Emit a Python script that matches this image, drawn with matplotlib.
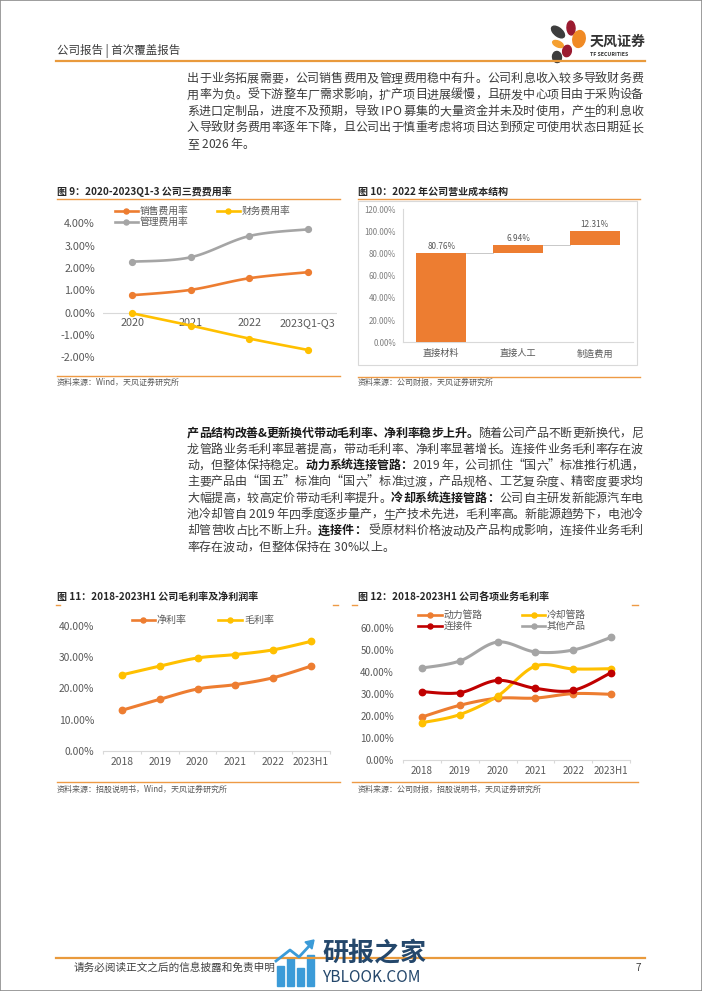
import numpy as np
import matplotlib
matplotlib.use('Agg')
import matplotlib.pyplot as plt
from matplotlib.lines import Line2D
from matplotlib.patches import Rectangle, Ellipse, Polygon
from matplotlib.font_manager import FontProperties

plt.rcParams['font.family'] = ['Noto Sans CJK SC', 'DejaVu Sans']

# ---- data ----
fee_years = ['2020', '2021', '2022', '2023Q1-Q3']
sales_fee = [0.78, 1.02, 1.54, 1.81]
fin_fee = [-0.03, -0.58, -1.16, -1.67]
admin_fee = [2.28, 2.48, 3.43, 3.73]

cost_items = ['直接材料', '直接人工', '制造费用']
cost_share = [80.76, 6.94, 12.31]

years = ['2018', '2019', '2020', '2021', '2022', '2023H1']
net_margin = [13.0, 16.5, 19.8, 21.2, 23.4, 27.1]
gross_margin = [24.3, 27.1, 29.7, 30.8, 32.3, 35.0]

power_pipe = [19.5, 24.8, 28.0, 28.1, 30.1, 29.8]
cool_pipe = [16.9, 20.6, 29.0, 42.6, 41.3, 41.4]
connector = [31.0, 30.5, 36.1, 32.5, 31.6, 39.6]
other_prod = [41.7, 44.9, 53.5, 49.0, 49.9, 55.6]

para1 = [
    '出于业务拓展需要，公司销售费用及管理费用稳中有升。公司利息收入较多导致财务费',
    '用率为负。受下游整车厂需求影响，扩产项目进展缓慢，且研发中心项目由于采购设备',
    '系进口定制品，进度不及预期，导致 IPO 募集的大量资金并未及时使用，产生的利息收',
    '入导致财务费用率逐年下降，且公司出于慎重考虑将项目达到预定可使用状态日期延长',
    '至 2026 年。',
]
# '§' toggles bold
para2 = [
    '§产品结构改善&更新换代带动毛利率、净利率稳步上升。§随着公司产品不断更新换代，尼',
    '龙管路业务毛利率显著提高，带动毛利率、净利率显著增长。连接件业务毛利率存在波',
    '动，但整体保持稳定。§动力系统连接管路：§2019 年，公司抓住“国六”标准推行机遇，',
    '主要产品由“国五”标准向“国六”标准过渡，产品规格、工艺复杂度、精密度要求均',
    '大幅提高，较高定价带动毛利率提升。§冷却系统连接管路：§公司自主研发新能源汽车电',
    '池冷却管自 2019 年四季度逐步量产，生产技术先进，毛利率高。新能源趋势下，电池冷',
    '却管营收占比不断上升。§连接件：§ 受原材料价格波动及产品构成影响，连接件业务毛利',
    '率存在波动，但整体保持在 30%以上。',
]

ORANGE = '#ED7D31'
YELLOW = '#FFC000'
GRAY = '#A5A5A5'
DARKRED = '#C00000'
RULE = '#EE9A45'
TXT = '#595959'

W, H = 702, 991
fig = plt.figure(figsize=(W / 100, H / 100), dpi=100)
renderer = fig.canvas.get_renderer()


def fx(x):
    return x / W


def fy(y):
    return 1 - y / H


def pt(px):
    return px * 0.72


def add_ax(x0, y0, x1, y1):
    return fig.add_axes([fx(x0), fy(y1), (x1 - x0) / W, (y1 - y0) / H])


def hline(x0, x1, y, color=RULE, lw=1.0):
    fig.add_artist(Line2D([fx(x0), fx(x1)], [fy(y), fy(y)], color=color, lw=lw))


def txt(x, y, s, size, color='#404040', weight='normal', ha='left', va='center', **kw):
    return fig.text(fx(x), fy(y), s, fontsize=pt(size), color=color,
                    fontweight=weight, ha=ha, va=va, **kw)


# ---- justified body text ----
_metrics = {}


def metrics(ch, bold, size):
    # advance width and left bearing (relative to 国) in pixels
    key = (ch, bold, size)
    if key not in _metrics:
        fp = FontProperties(family='Noto Sans CJK SC', size=pt(size),
                            weight='bold' if bold else 'normal')

        def w(s):
            return renderer.get_text_width_height_descent(s, fp, ismath=False)[0]
        if '\u4e00' <= ch <= '\u9fff' or ch in '，。、：；':
            adv = float(size)
        else:
            adv = w('国' + ch + '国') - w('国国')
        adv_ref = w('国国国') - w('国国')
        lsb = w('国' + ch) - w(ch) - adv_ref if ch != ' ' else 0
        _metrics[key] = (adv, lsb)
    return _metrics[key]


def body_line(line, x0, x1, y, size=12, justify=True):
    chars = []
    bold = False
    for ch in line:
        if ch == '§':
            bold = not bold
            continue
        chars.append((ch, bold))
    mets = [metrics(c, b, size) for c, b in chars]
    total = sum(m[0] for m in mets)
    gap = (x1 - x0 - total) / (len(chars) - 1) if justify and len(chars) > 1 else 0
    x = x0
    base = y + 0.38 * size
    for (c, b), (adv, lsb) in zip(chars, mets):
        if c != ' ':
            col = '#1a1a1a' if b else '#3c3c3c'
            txt(x + lsb, base, c, size, color=col, weight='bold' if b else 'normal',
                ha='left', va='baseline')
        x += adv + gap


for i, line in enumerate(para1):
    body_line(line, 187, 643, 77.5 + 16.4 * i, justify=i < len(para1) - 1)
for i, line in enumerate(para2):
    body_line(line, 187, 643, 432 + 16.3 * i, justify=i < len(para2) - 1)


# ---- helpers for charts ----
def smooth(xv, yv, n=20):
    P = np.column_stack([xv, yv]).astype(float)
    k = len(P)
    out = [P[0]]
    t = np.linspace(0, 1, n)[1:, None]
    for i in range(k - 1):
        p0 = P[max(i - 1, 0)]
        p1 = P[i]
        p2 = P[i + 1]
        p3 = P[min(i + 2, k - 1)]
        c1 = p1 + (p2 - p0) / 6
        c2 = p2 - (p3 - p1) / 6
        seg = (1 - t) ** 3 * p1 + 3 * (1 - t) ** 2 * t * c1 + 3 * (1 - t) * t ** 2 * c2 + t ** 3 * p2
        out.extend(seg)
    out = np.array(out)
    return out[:, 0], out[:, 1]


def legend_item(x0, x1, y, color, label, size=9.8, lw=1.9):
    fig.add_artist(Line2D([fx(x0), fx(x1)], [fy(y), fy(y)], color=color, lw=lw))
    fig.add_artist(Line2D([fx((x0 + x1) / 2)], [fy(y)], marker='o', ms=3.6,
                          color=color, linestyle='none'))
    txt(x1 + 2, y, label, size, color=TXT)


def clean(ax):
    for s in ax.spines.values():
        s.set_visible(False)
    ax.set_facecolor('none')


def draw_lines(ax, series, lw=1.9, ms=4.4):
    for vals, col in series:
        xv = np.arange(len(vals))
        sx, sy = smooth(xv, vals)
        ax.plot(sx, sy, color=col, lw=lw, clip_on=False, zorder=3)
        ax.plot(xv, vals, 'o', color=col, ms=ms, clip_on=False, zorder=4)


def pct_yticks(ax, ticks, size, pad_px, color=TXT):
    ax.set_yticks(ticks)
    ax.set_yticklabels([f'{v:.2f}%' for v in ticks], fontsize=pt(size), color=color)
    ax.tick_params(axis='y', length=0, pad=pt(pad_px))


def bottom_axis(ax, cats, size, pad_px):
    ax.spines['bottom'].set_visible(True)
    ax.spines['bottom'].set_color('#D9D9D9')
    ax.spines['bottom'].set_linewidth(0.8)
    ax.set_xticks(range(len(cats)))
    ax.set_xticklabels(cats, fontsize=pt(size), color=TXT)
    ax.set_xticks(np.arange(len(cats) + 1) - 0.5, minor=True)
    ax.tick_params(axis='x', which='major', length=0, pad=pt(pad_px))
    ax.tick_params(axis='x', which='minor', length=pt(3), color='#D9D9D9', width=0.8)


# ---- header ----
txt(57, 51, '公司报告 | 首次覆盖报告', 11.5, color='#3a3a3a')
hline(56, 645, 61, color='#E99A3C', lw=1.6)
for (cx, cy, w, h, ang, col) in [(558, 32, 14, 9, -25, '#3d3d3d'),
                                 (571, 28, 8, 14, 10, '#9b1b30'),
                                 (579, 39, 13, 16, 35, '#F08A24'),
                                 (558, 44, 11, 6, -15, '#F5A030'),
                                 (567, 51, 9, 11, 25, '#9b1b30'),
                                 (557, 57, 9, 11, -10, '#3d3d3d')]:
    fig.add_artist(Ellipse((fx(cx), fy(cy)), w / W, h / H, angle=ang, color=col))
txt(590, 42, '天风证券', 14, color='#333333', weight='bold')
txt(590, 54.5, 'TF SECURITIES', 5.2, color='#333333', weight='bold')

# ---- chart 9 ----
txt(57, 191.7, '图 9：2020-2023Q1-3 公司三费费用率', 10, color='#262626', weight='bold')
hline(57, 340, 199)
hline(57, 340, 376)
txt(57, 382.5, '资料来源：Wind，天风证券研究所', 8, color=TXT)

ax9 = add_ax(103, 223.3, 337, 357.3)
clean(ax9)
ax9.set_xlim(-0.5, len(fee_years) - 0.5)
ax9.set_ylim(-2, 4)
ax9.axhline(0, color='#D9D9D9', lw=0.8, zorder=0)
draw_lines(ax9, [(sales_fee, ORANGE), (fin_fee, YELLOW), (admin_fee, GRAY)], lw=1.9, ms=4.2)
pct_yticks(ax9, np.arange(-2, 5, 1), 10.8, 8)
ax9.set_xticks([])
for i, lab in enumerate(fee_years):
    ax9.annotate(lab, (i, 0), xytext=(0, -pt(5)), textcoords='offset points',
                 ha='center', va='top', fontsize=pt(10.8), color=TXT, zorder=1)
legend_item(115, 138, 211, ORANGE, '销售费用率')
legend_item(217, 240, 211, YELLOW, '财务费用率')
legend_item(115, 138, 221.7, GRAY, '管理费用率')

# ---- chart 10 ----
txt(358, 191.7, '图 10：2022 年公司营业成本结构', 10, color='#262626', weight='bold')
hline(358, 640, 199)
hline(358, 640, 376.7)
txt(358, 382.5, '资料来源：公司财报，天风证券研究所', 8, color=TXT)
fig.add_artist(Rectangle((fx(358), fy(365)), (637 - 358) / W, (365 - 200.7) / H,
                         fill=False, ec='#D9D9D9', lw=0.8))

ax10 = add_ax(403, 209, 633, 342.3)
clean(ax10)
ax10.set_xlim(-0.5, len(cost_items) - 0.5)
ax10.set_ylim(0, 120)
bottoms = np.concatenate([[0], np.cumsum(cost_share)[:-1]])
ax10.bar(range(len(cost_items)), cost_share, bottom=bottoms, width=0.65, color=ORANGE, zorder=3)
for i in range(len(cost_items) - 1):
    ax10.plot([i + 0.325, i + 1 - 0.325], [bottoms[i + 1]] * 2, color='#BFBFBF', lw=0.6)
for i, v in enumerate(cost_share):
    ax10.annotate(f'{v:.2f}%', (i, bottoms[i] + v), xytext=(0, pt(2)), textcoords='offset points',
                  ha='center', va='bottom', fontsize=pt(8.2), color=TXT)
for s in ['left', 'bottom']:
    ax10.spines[s].set_visible(True)
    ax10.spines[s].set_color('#D9D9D9')
    ax10.spines[s].set_linewidth(0.8)
pct_yticks(ax10, np.arange(0, 121, 20), 8, 7, color='#7f7f7f')
ax10.set_xticks(range(len(cost_items)))
ax10.set_xticklabels(cost_items, fontsize=pt(9.2), color=TXT)
ax10.tick_params(axis='x', length=0, pad=pt(7))

# ---- chart 11 ----
txt(57, 596.7, '图 11：2018-2023H1 公司毛利率及净利润率', 10, color='#262626', weight='bold')
hline(56, 60, 605)
hline(333, 338, 605)
hline(57, 340, 781.7)
txt(57, 789, '资料来源：招股说明书，Wind，天风证券研究所', 8, color=TXT)

ax11 = add_ax(103, 625.7, 330, 751)
clean(ax11)
ax11.set_xlim(-0.5, len(years) - 0.5)
ax11.set_ylim(0, 40)
draw_lines(ax11, [(net_margin, ORANGE), (gross_margin, YELLOW)], lw=2.2, ms=4.6)
pct_yticks(ax11, np.arange(0, 41, 10), 10.3, 9)
bottom_axis(ax11, years, 10.3, 6)
legend_item(131.7, 155, 620, ORANGE, '净利率', size=10)
legend_item(218, 242, 620, YELLOW, '毛利率', size=10)

# ---- chart 12 ----
txt(358, 596.7, '图 12：2018-2023H1 公司各项业务毛利率', 10, color='#262626', weight='bold')
hline(352, 357, 605)
hline(632, 638, 605)
hline(352, 638, 781.7)
txt(358, 789, '资料来源：公司财报，招股说明书，天风证券研究所', 8, color=TXT)

ax12 = add_ax(403, 627.7, 630, 760)
clean(ax12)
ax12.set_xlim(-0.5, len(years) - 0.5)
ax12.set_ylim(0, 60)
draw_lines(ax12, [(other_prod, GRAY), (power_pipe, ORANGE), (cool_pipe, YELLOW),
                  (connector, DARKRED)], lw=2.2, ms=4.6)
pct_yticks(ax12, np.arange(0, 61, 10), 9.8, 9)
bottom_axis(ax12, years, 9.8, 6)
legend_item(418, 442, 615, ORANGE, '动力管路')
legend_item(522, 545, 615, YELLOW, '冷却管路')
legend_item(418, 442, 625.7, DARKRED, '连接件')
legend_item(522, 545, 625.7, GRAY, '其他产品')

# ---- footer ----
hline(56, 645, 958, color='#E99A3C', lw=1.6)
txt(74, 968, '请务必阅读正文之后的信息披露和免责申明', 10.6, color='#404040')
txt(638, 968, '7', 10, color='#404040', ha='center')
for (bx, btop) in [(277, 966), (287, 958), (297, 968), (307, 955)]:
    fig.add_artist(Rectangle((fx(bx), fy(986)), 7 / W, (986 - btop) / H, color='#3B9BD8'))
fig.add_artist(Line2D([fx(276), fx(290), fx(299), fx(312)], [fy(961), fy(950), fy(957), fy(943)],
                      color='#3B9BD8', lw=2))
fig.add_artist(Polygon([(fx(314), fy(940)), (fx(305), fy(942)), (fx(312), fy(949))],
                       closed=True, color='#3B9BD8'))
txt(322, 953, '研报之家', 26, color='#24476B', weight='bold')
txt(322, 977, 'YBLOOK.COM', 15.5, color='#24476B')

# page border
fig.add_artist(Rectangle((0, 0), 1, 1, fill=False, ec='#8c8c8c', lw=1.2))

fig.savefig('out.png', dpi=100)
